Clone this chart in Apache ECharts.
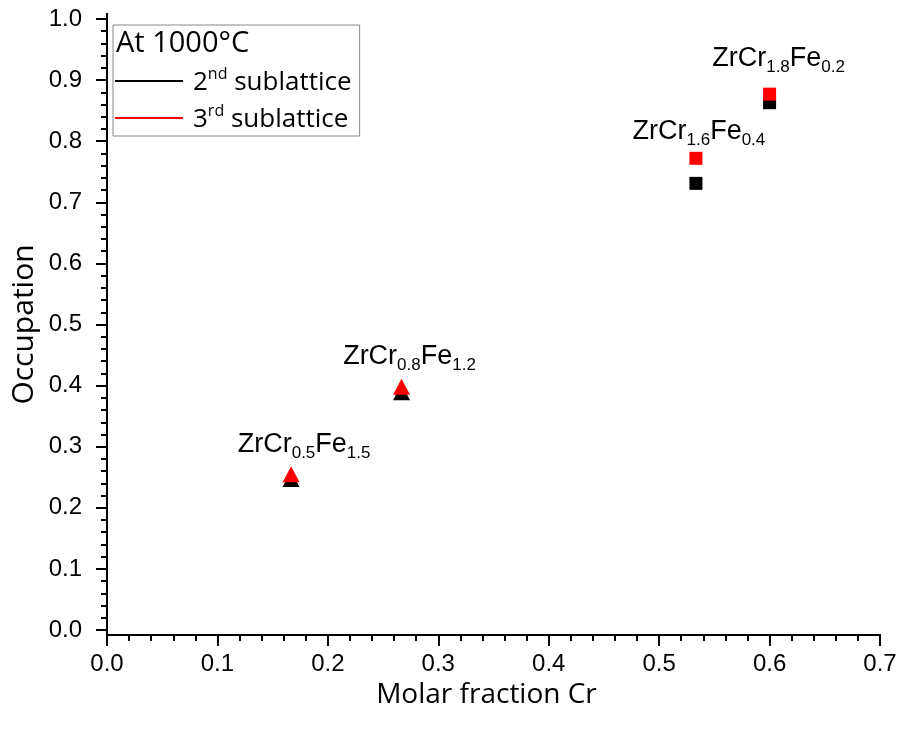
<!DOCTYPE html>
<html>
<head>
<meta charset="utf-8">
<script src="https://cdn.jsdelivr.net/npm/echarts@6/dist/echarts.min.js"></script>
<style>html,body{margin:0;padding:0;background:#fff}#c{width:901px;height:731px}</style>
</head>
<body>
<div id="c"></div>
<script>
// ---- data ----
const molarCr = [0.1667, 0.2667, 0.5333, 0.6];
const occ2nd = [0.247, 0.389, 0.731, 0.863];
const occ3rd = [0.255, 0.398, 0.772, 0.877];
const shapes = ['triangle', 'triangle', 'rect', 'rect'];
const crSub = ['0.5', '0.8', '1.6', '1.8'];
const feSub = ['1.5', '1.2', '0.4', '0.2'];
const xTicks = ['0.0','0.1','0.2','0.3','0.4','0.5','0.6','0.7'];
const seriesNames = ['2nd sublattice', '3rd sublattice'];
const legendTitle = 'At 1000°C';

const labelOffsets = [[13, -4], [8, -5], [3, -3], [9, -12]];
const sans = 'Liberation Sans';
const uiFont = 'Open Sans';

function pts(ys, withLabels) {
  return molarCr.map((x, i) => {
    const isTri = shapes[i] === 'triangle';
    const d = {
      value: [x, ys[i]],
      symbol: shapes[i],
      symbolSize: isTri ? [17, 16] : [13, 13]
    };
    if (withLabels) {
      d.label = {
        show: true,
        position: 'top',
        distance: 0,
        offset: labelOffsets[i],
        formatter: '{b|ZrCr}{s|' + crSub[i] + '}{b|Fe}{s|' + feSub[i] + '}',
        rich: {
          b: {fontFamily: sans, fontSize: 27, color: '#000', verticalAlign: 'top'},
          s: {fontFamily: sans, fontSize: 17, color: '#000', verticalAlign: 'top', padding: [14, 0, 0, 0]}
        }
      };
    }
    return d;
  });
}

const chart = echarts.init(document.getElementById('c'), null, {renderer: 'canvas'});
const axisLineStyle = {color: '#000', width: 2};
chart.setOption({
  animation: false,
  backgroundColor: '#fff',
  title: {
    text: legendTitle,
    left: 116, top: 29, padding: 0,
    textStyle: {fontFamily: uiFont, fontSize: 29, fontWeight: 'normal', color: '#000'}
  },
  legend: {
    orient: 'vertical',
    left: 113, top: 25,
    padding: [41, 8, 3, 2],
    borderColor: '#888', borderWidth: 1,
    itemWidth: 68, itemHeight: 2,
    itemGap: 7,
    icon: 'rect',
    data: seriesNames,
    formatter: function (n) {
      const m = n.match(/^(\d)(\w\w) (.*)$/);
      return '{a0|' + m[1] + '}{p|' + m[2] + '}{a| ' + m[3] + '}';
    },
    textStyle: {
      fontFamily: uiFont, color: '#000', fontSize: 26, lineHeight: 30,
      rich: {
        a0: {fontFamily: uiFont, fontSize: 26, color: '#000', verticalAlign: 'bottom', lineHeight: 30, padding: [0, 0, 0, 5]},
        a: {fontFamily: uiFont, fontSize: 26, color: '#000', verticalAlign: 'bottom', lineHeight: 30},
        p: {fontFamily: uiFont, fontSize: 16, color: '#000', verticalAlign: 'top', lineHeight: 18}
      }
    }
  },
  grid: [
    {left: 107, right: 21, top: 14, bottom: 96, outerBoundsMode: 'none', containLabel: false},
    {left: 107, right: 21, top: 19, bottom: 101, outerBoundsMode: 'none', containLabel: false}
  ],
  xAxis: [
    {
      gridIndex: 0, type: 'value', min: 0, max: 0.7, interval: 0.1, position: 'bottom',
      axisLine: {show: true, lineStyle: axisLineStyle},
      axisTick: {show: true, length: 11, lineStyle: axisLineStyle},
      minorTick: {show: true, splitNumber: 5, length: 6, lineStyle: axisLineStyle},
      splitLine: {show: false},
      axisLabel: {fontFamily: sans, fontSize: 24, color: '#000', margin: 17,
        formatter: v => xTicks[Math.round(v * 10)]},
      name: 'Molar fraction Cr', nameLocation: 'middle', nameGap: 36,
      nameTextStyle: {fontFamily: uiFont, fontSize: 28, color: '#000', padding: [0, 14, 0, 0]}
    },
    {
      gridIndex: 0, type: 'value', min: 0, max: 0.7, position: 'top',
      axisLine: {show: true, lineStyle: axisLineStyle},
      axisTick: {show: false}, axisLabel: {show: false}, splitLine: {show: false}
    },
    {
      gridIndex: 1, type: 'value', min: 0, max: 0.7, show: false
    }
  ],
  yAxis: [
    {
      gridIndex: 0, type: 'value', min: 0, max: 1, position: 'left',
      axisLine: {show: true, lineStyle: axisLineStyle},
      axisTick: {show: false}, axisLabel: {show: false}, splitLine: {show: false},
      name: 'Occupation', nameLocation: 'middle', nameGap: 68,
      nameTextStyle: {fontFamily: uiFont, fontSize: 30, color: '#000'}
    },
    {
      gridIndex: 0, type: 'value', min: 0, max: 1, position: 'right',
      axisLine: {show: true, lineStyle: axisLineStyle},
      axisTick: {show: false}, axisLabel: {show: false}, splitLine: {show: false}
    },
    {
      gridIndex: 1, type: 'value', min: 0, max: 1, interval: 0.1, position: 'left',
      axisLine: {show: false},
      axisTick: {show: true, length: 11, lineStyle: axisLineStyle},
      minorTick: {show: true, splitNumber: 5, length: 6, lineStyle: axisLineStyle},
      splitLine: {show: false},
      axisLabel: {fontFamily: sans, fontSize: 24, color: '#000', margin: 25,
        formatter: v => v.toFixed(1)}
    }
  ],
  series: [
    {
      name: seriesNames[0], type: 'scatter', xAxisIndex: 2, yAxisIndex: 2,
      itemStyle: {color: '#000', opacity: 1},
      data: pts(occ2nd, false)
    },
    {
      name: seriesNames[1], type: 'scatter', xAxisIndex: 2, yAxisIndex: 2,
      itemStyle: {color: '#ff0000', opacity: 1},
      data: pts(occ3rd, true)
    }
  ]
});
</script>
</body>
</html>
